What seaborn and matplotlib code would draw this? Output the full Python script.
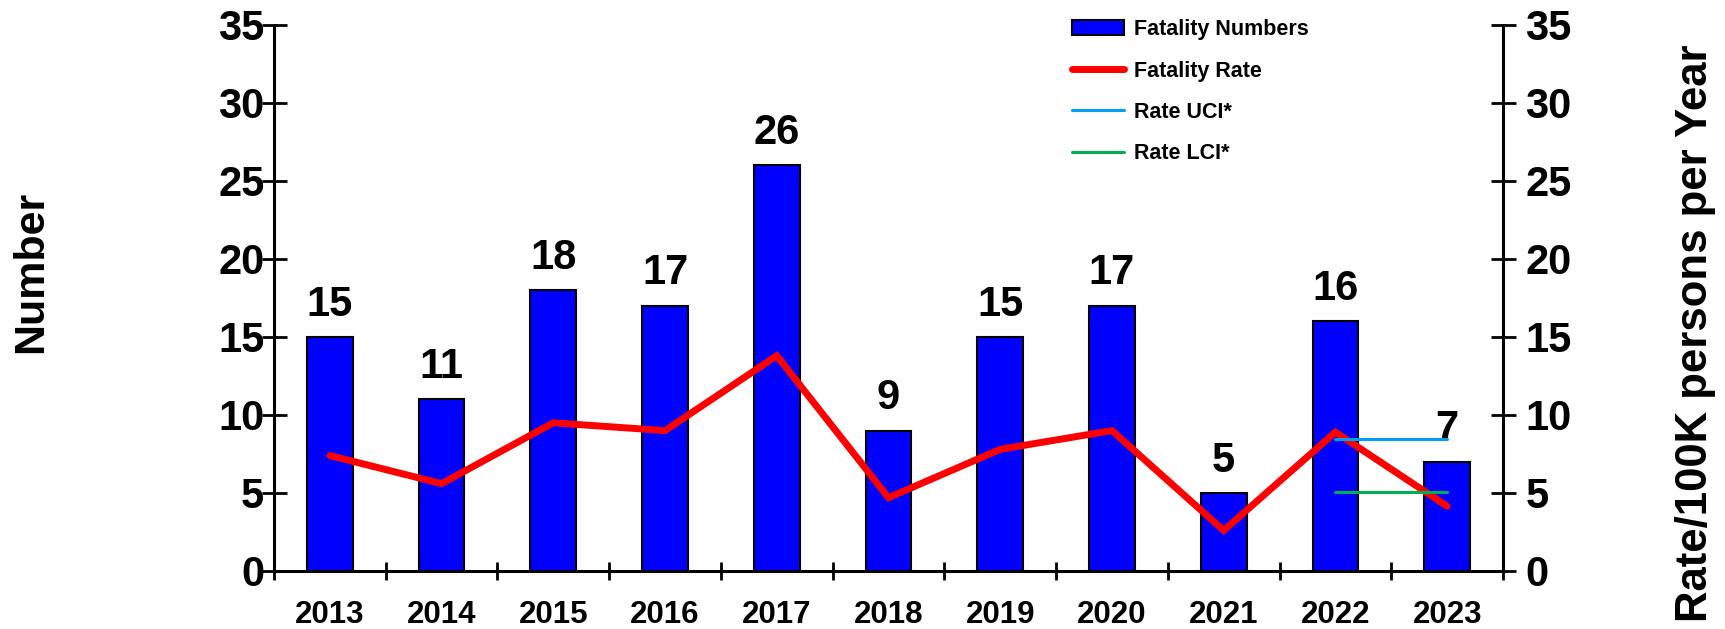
import numpy as np
import seaborn as sns
import matplotlib.pyplot as plt
from matplotlib.patches import Patch
from matplotlib.lines import Line2D

# chart data
years = ["2013", "2014", "2015", "2016", "2017", "2018", "2019", "2020", "2021", "2022", "2023"]
fatality_numbers = [15, 11, 18, 17, 26, 9, 15, 17, 5, 16, 7]
fatality_rate = [7.4, 5.6, 9.5, 9.0, 13.8, 4.7, 7.8, 9.0, 2.6, 8.9, 4.15]
ci_years = ["2022", "2023"]
rate_uci = [8.45, 8.45]
rate_lci = [5.05, 5.05]

sns.set_style("ticks")
plt.rcParams['font.family'] = ['Liberation Sans', 'DejaVu Sans']
plt.rcParams['font.weight'] = 'bold'
plt.rcParams['text.color'] = 'black'
plt.rcParams['axes.edgecolor'] = 'black'
plt.rcParams['xtick.color'] = 'black'
plt.rcParams['ytick.color'] = 'black'

fig = plt.figure(figsize=(17.25, 6.29), dpi=100)
ax = fig.add_axes([274 / 1725, 1 - 571 / 629, (1503 - 274) / 1725, (571 - 25) / 629])

sns.barplot(x=years, y=fatality_numbers, color="#0000FF", saturation=1, width=0.41,
            edgecolor="black", linewidth=1.5, ax=ax)

ax.bar_label(ax.containers[0], padding=9, fontsize=30, fontweight="bold")

ax2 = ax.twinx()
pos = np.arange(len(years))
ci_pos = [years.index(y) for y in ci_years]
sns.lineplot(x=pos, y=fatality_rate, color="#FF0000", linewidth=5, ax=ax2,
             solid_capstyle="round", solid_joinstyle="miter")
sns.lineplot(x=ci_pos, y=rate_uci, color="#00A0F0", linewidth=2.2, ax=ax2, solid_capstyle="round")
sns.lineplot(x=ci_pos, y=rate_lci, color="#00B050", linewidth=2.2, ax=ax2, solid_capstyle="round")

for a, p in ((ax, -2), (ax2, 7)):
    a.set_ylim(0, 35)
    a.set_yticks(range(0, 36, 5))
    a.set_xlim(-0.5, 10.5)
    a.set_ylabel("")
    a.set_xlabel("")
    a.spines["top"].set_visible(False)
    for s in a.spines.values():
        s.set_linewidth(2.2)
    a.tick_params(axis="y", direction="inout", length=18, width=2, labelsize=30, pad=p)

ax.spines["right"].set_visible(False)
ax2.spines["left"].set_visible(False)
ax2.spines["bottom"].set_visible(False)
ax2.spines["right"].set_visible(True)

ax.set_xticks(pos)
ax.set_xticklabels(years)
ax.set_xticks(np.arange(-0.5, len(years)), minor=True)
ax.tick_params(axis="x", which="major", length=0, labelsize=22.5, pad=21)
ax.tick_params(axis="x", which="minor", direction="inout", length=13, width=2)
for t in ax.get_xticklabels() + ax.get_yticklabels() + ax2.get_yticklabels():
    t.set_fontweight("bold")

fig.text(31 / 1725, 1 - 272 / 629, "Number", rotation=90, ha="center", va="center",
         fontsize=31, fontweight="bold")
fig.text(1696 / 1725, 1 - 333 / 629, "Rate/100K persons per Year", rotation=90,
         ha="center", va="center", fontsize=31.5, fontweight="bold")

handles = [
    Patch(facecolor="#0000FF", edgecolor="black", linewidth=1.5),
    Line2D([], [], color="#FF0000", linewidth=5, solid_capstyle="round"),
    Line2D([], [], color="#00A0F0", linewidth=2.2, solid_capstyle="round"),
    Line2D([], [], color="#00B050", linewidth=2.2, solid_capstyle="round"),
]
fig.legend(handles, ["Fatality Numbers", "Fatality Rate", "Rate UCI*", "Rate LCI*"],
           loc="upper left", bbox_to_anchor=(1053 / 1725, 1.0005), frameon=False,
           prop={"size": 15.5, "weight": "bold"}, handlelength=2.4, labelspacing=0.95,
           handletextpad=0.45)

fig.savefig("out.png", dpi=100)
